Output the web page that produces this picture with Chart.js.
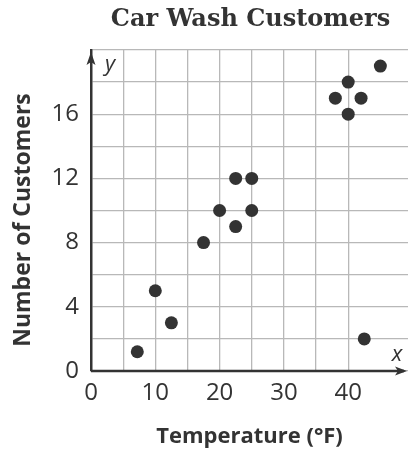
<!DOCTYPE html>
<html>
<head>
<meta charset="utf-8">
<script src="https://cdn.jsdelivr.net/npm/chart.js@4"></script>
<style>
  html, body { margin: 0; padding: 0; background: #fff; }
  #wrap { width: 409px; height: 450px; }
</style>
</head>
<body>
<div id="wrap"><canvas id="grafica" width="409" height="450"></canvas></div>
<script>
// datos
const temperaturas = [7.2, 10, 12.5, 17.5, 20, 22.5, 22.5, 25, 25, 38, 40, 40, 42, 45, 42.5];
const clientes = [1.2, 5, 3, 8, 10, 9, 12, 10, 12, 17, 18, 16, 17, 19, 2];
const etiquetasX = [0, 10, 20, 30, 40];
const etiquetasY = [0, 4, 8, 12, 16];

const tinta = "#333333";

// titulo, titulo del eje y, flechas de los ejes y las letras x, y
const extras = {
  id: "extras",
  afterDraw(chart) {
    const { ctx, scales, chartArea } = chart;
    const x0 = scales.x.getPixelForValue(0);
    const y0 = scales.y.getPixelForValue(0);
    const top = chartArea.top;
    const right = chartArea.right;
    ctx.save();
    ctx.fillStyle = tinta;
    ctx.strokeStyle = tinta;
    ctx.lineWidth = 2.5;

    // titulo
    ctx.textAlign = "center";
    ctx.textBaseline = "middle";
    ctx.font = "bold 24px 'DejaVu Serif'";
    ctx.fillText("Car Wash Customers", (chartArea.left + right) / 2 + 1, 20);

    // titulo eje y
    ctx.save();
    ctx.translate(23, 220);
    ctx.rotate(-Math.PI / 2);
    ctx.font = "bold 23px 'Open Sans'";
    ctx.fillText("Number of Customers", 0, 0);
    ctx.restore();

    // flecha y
    ctx.beginPath();
    ctx.moveTo(x0, top + 2);
    ctx.lineTo(x0 - 4.5, top + 15);
    ctx.lineTo(x0, top + 12);
    ctx.lineTo(x0 + 4.5, top + 15);
    ctx.closePath();
    ctx.fill();
    // flecha x
    ctx.beginPath();
    ctx.moveTo(x0, y0);
    ctx.lineTo(right - 4, y0);
    ctx.stroke();
    ctx.beginPath();
    ctx.moveTo(right - 1, y0);
    ctx.lineTo(right - 13, y0 - 4.5);
    ctx.lineTo(right - 10, y0);
    ctx.lineTo(right - 13, y0 + 4.5);
    ctx.closePath();
    ctx.fill();
    // letras
    ctx.font = "italic 22px 'Open Sans'";
    ctx.textBaseline = "alphabetic";
    ctx.fillText("y", x0 + 19, top + 21);
    ctx.fillText("x", right - 11, y0 - 10);
    ctx.restore();
  }
};

new Chart(document.getElementById("grafica"), {
  type: "scatter",
  data: {
    datasets: [{
      label: "Clientes",
      data: temperaturas.map((t, i) => ({ x: t, y: clientes[i] })),
      backgroundColor: tinta,
      borderColor: tinta,
      pointRadius: 6.5,
      pointHoverRadius: 6.5,
      borderWidth: 0
    }]
  },
  options: {
    responsive: false,
    animation: false,
    layout: { autoPadding: false, padding: { left: 0, right: 1, top: 50, bottom: 0 } },
    plugins: {
      legend: { display: false },
      tooltip: { enabled: false },
      title: { display: false }
    },
    scales: {
      x: {
        type: "linear",
        min: 0,
        max: 49.3,
        afterBuildTicks: (scale) => {
          scale.ticks = scale.ticks.filter((t) => t.value % 5 === 0);
        },
        ticks: {
          stepSize: 5,
          padding: 8,
          maxRotation: 0,
          autoSkip: false,
          color: tinta,
          font: { family: "'Open Sans'", size: 24 },
          callback: (v) => (etiquetasX.includes(v) ? String(v) : "")
        },
        grid: { color: "#b8b8b8", lineWidth: 1.3, drawTicks: false },
        border: { display: false },
        title: {
          display: true,
          text: "Temperature (°F)",
          color: tinta,
          font: { family: "'Open Sans'", size: 22, weight: "bold" },
          padding: { top: 3, bottom: 0 }
        },
        afterFit: (scale) => { scale.height = 79; }
      },
      y: {
        type: "linear",
        min: 0,
        max: 20,
        ticks: {
          stepSize: 2,
          padding: 12,
          autoSkip: false,
          color: tinta,
          font: { family: "'Open Sans'", size: 24 },
          callback: (v) => (etiquetasY.includes(v) ? String(v) : "")
        },
        grid: { color: "#b8b8b8", lineWidth: 1.3, drawTicks: false },
        border: { display: true, color: tinta, width: 2.5 },
        title: { display: false },
        afterFit: (scale) => { scale.width = 91; }
      }
    }
  },
  plugins: [extras]
});
</script>
</body>
</html>
